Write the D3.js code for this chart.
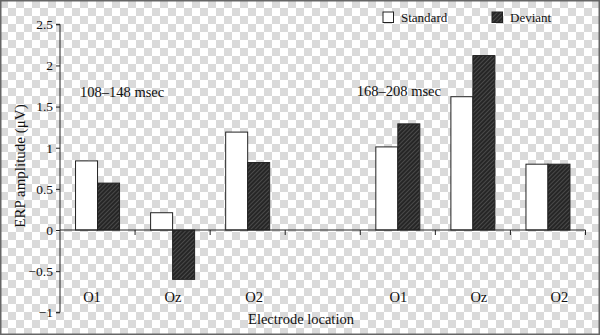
<!DOCTYPE html>
<html><head><meta charset="utf-8">
<script src="https://cdn.jsdelivr.net/npm/d3@7"></script>
<style>body{margin:0;}svg{display:block;}</style>
</head><body>
<svg id="c" width="600" height="335"></svg>
<script>
const categories = ["O1","Oz","O2","","O1","Oz","O2"];
const standard = [0.84, 0.21, 1.19, null, 1.01, 1.62, 0.80];
const deviant  = [0.57, -0.60, 0.82, null, 1.29, 2.12, 0.80];
const yTicks = [-1, -0.5, 0, 0.5, 1, 1.5, 2, 2.5];
const seriesNames = ["Standard", "Deviant"];
const windows = ["108–148 msec", "168–208 msec"];

const svg = d3.select("#c");
const defs = svg.append("defs");
const chk = defs.append("pattern").attr("id","chk").attr("width",16).attr("height",16).attr("patternUnits","userSpaceOnUse");
chk.append("rect").attr("width",16).attr("height",16).attr("fill","#ffffff");
chk.append("rect").attr("width",8).attr("height",8).attr("fill","#dadada");
chk.append("rect").attr("x",8).attr("y",8).attr("width",8).attr("height",8).attr("fill","#dadada");
const hat = defs.append("pattern").attr("id","hat").attr("width",3).attr("height",3).attr("patternUnits","userSpaceOnUse").attr("patternTransform","rotate(45)");
hat.append("rect").attr("width",3).attr("height",3).attr("fill","#262626");
hat.append("line").attr("x1",0).attr("y1",0).attr("x2",0).attr("y2",3).attr("stroke","#6e6e6e").attr("stroke-width",1);

svg.append("rect").attr("width",600).attr("height",335).attr("fill","url(#chk)");
svg.append("rect").attr("x",0.75).attr("y",0.75).attr("width",598.5).attr("height",333.5).attr("fill","none").attr("stroke","#666").attr("stroke-width",1.5);

const font = "'Liberation Serif', 'Times New Roman', serif";
const x = d3.scaleBand().domain(d3.range(categories.length)).range([60, 585.5]);
const y = d3.scaleLinear().domain([-1, 2.5]).range([312.3, 24.3]);
const bw = 22;

// bars
const g = svg.append("g");
categories.forEach((c, i) => {
  const cx = x(i) + x.bandwidth()/2;
  if (standard[i] != null) {
    g.append("rect").attr("x", cx - bw).attr("width", bw)
      .attr("y", y(Math.max(0, standard[i]))).attr("height", Math.abs(y(standard[i]) - y(0)))
      .attr("fill","#fff").attr("stroke","#222").attr("stroke-width",1);
  }
  if (deviant[i] != null) {
    g.append("rect").attr("x", cx).attr("width", bw)
      .attr("y", y(Math.max(0, deviant[i]))).attr("height", Math.abs(y(deviant[i]) - y(0)))
      .attr("fill","url(#hat)").attr("stroke","#222").attr("stroke-width",1);
  }
});

// y axis
const yAxis = svg.append("g").attr("transform","translate(60,0)")
  .call(d3.axisLeft(y).tickValues(yTicks).tickSize(4).tickPadding(3)
    .tickFormat(d => d3.format("")(d).replace("-", "\u2212")));
yAxis.selectAll(".domain").attr("stroke","#222").attr("d", `M-4,${y(2.5)}H0V${y(-1)}H-4`);
yAxis.selectAll("line").attr("stroke","#222");
yAxis.selectAll("text").attr("font-family",font).attr("font-size",13.5).attr("fill","#111");

// x axis at zero
const boundaries = d3.range(categories.length + 1).map(i => 60 + i * x.step());
svg.append("line").attr("x1",60).attr("x2",585.5).attr("y1",y(0)).attr("y2",y(0)).attr("stroke","#222");
svg.selectAll(".xt").data(boundaries.slice(1)).enter().append("line")
  .attr("x1", d => d).attr("x2", d => d).attr("y1", y(0)).attr("y2", y(0) + 5).attr("stroke","#222");

// category labels (each group set slightly wider than its bars)
const lblL = d3.scaleLinear().domain([0, 2]).range([x(0) + 32, x(2) + 44]);
const lblR = d3.scaleLinear().domain([4, 6]).range([x(4) + 38, x(6) + 49]);
svg.selectAll(".xl").data(categories).enter().append("text")
  .attr("x", (d, i) => i < 3 ? lblL(i) : lblR(i)).attr("y", 302)
  .attr("text-anchor","middle").attr("font-family",font).attr("font-size",14.5).attr("fill","#111").text(d => d);

svg.append("text").attr("x",301).attr("y",324).attr("text-anchor","middle")
  .attr("font-family",font).attr("font-size",14.5).attr("fill","#111").text("Electrode location");
svg.append("text").attr("transform","translate(25,166) rotate(-90)").attr("text-anchor","middle")
  .attr("font-family",font).attr("font-size",15).attr("fill","#111").text("ERP amplitude (\u03BCV)");

svg.append("text").attr("x", x(0) + 20).attr("y", 97)
  .attr("font-family",font).attr("font-size",14.5).attr("fill","#111").text(windows[0]);
svg.append("text").attr("x", x(4) - 3.5).attr("y", 95.5)
  .attr("font-family",font).attr("font-size",14.5).attr("fill","#111").text(windows[1]);

// legend
const lg = [{x:383, fill:"#fff"}, {x:492, fill:"url(#hat)"}];
lg.forEach((l, i) => {
  svg.append("rect").attr("x", l.x).attr("y", 12).attr("width", 10.5).attr("height", 10.5)
    .attr("fill", l.fill).attr("stroke","#222");
  svg.append("text").attr("x", l.x + 18).attr("y", 22).attr("font-family",font).attr("font-size",13)
    .attr("fill","#111").text(seriesNames[i]);
});
</script>
</body></html>
